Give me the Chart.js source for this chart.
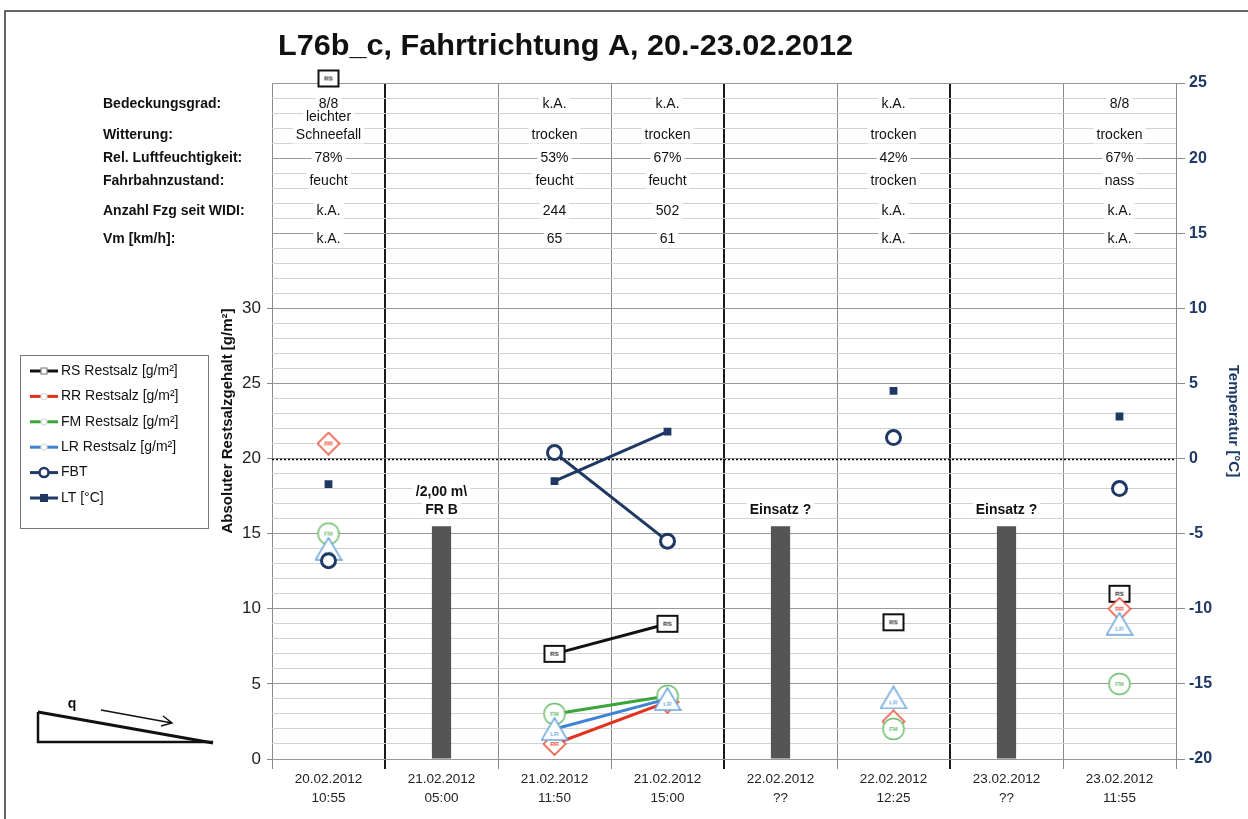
<!DOCTYPE html>
<html>
<head>
<meta charset="utf-8">
<script src="https://cdn.jsdelivr.net/npm/chart.js@4.4.0/dist/chart.umd.min.js"></script>
<style>
  html, body { margin: 0; padding: 0; background: #fff; }
</style>
</head>
<body>
<canvas id="chart" width="1248" height="819"></canvas>
<script>
// categories (date + time of each measurement)
const categories = [
    ['20.02.2012', '10:55'], ['21.02.2012', '05:00'], ['21.02.2012', '11:50'], ['21.02.2012', '15:00'],
    ['22.02.2012', '??'], ['22.02.2012', '12:25'], ['23.02.2012', '??'], ['23.02.2012', '11:55']
];

// left axis: residual salt [g/m²]
const einsatz   = [null, 15.5, null, null, 15.5, null, 15.5, null];
const rsValues  = [45.3, null, 7, 9, null, 9.1, null, 11];
const rrValues  = [21, null, 1, 3.8, null, 2.5, null, 10];
const fmValues  = [15, null, 3, 4.2, null, 2, null, 5];
const lrValues  = [14, null, 2, 4, null, 4.1, null, 9];
// right axis: temperatures [°C]
const fbtValues = [-6.8, null, 0.4, -5.5, null, 1.4, null, -2];
const ltValues  = [-1.7, null, -1.5, 1.8, null, 4.5, null, 2.8];

const einsatzNotes = [[], ['/2,00 m\\', 'FR B'], [], [], ['Einsatz ?'], [], ['Einsatz ?'], []];

// header table above the plot
const rowLabels   = ['Bedeckungsgrad:', 'Witterung:', 'Rel. Luftfeuchtigkeit:', 'Fahrbahnzustand:', 'Anzahl Fzg seit WIDI:', 'Vm [km/h]:'];
const bedeckung   = ['8/8', '', 'k.A.', 'k.A.', '', 'k.A.', '', '8/8'];
const witterung   = [['leichter', 'Schneefall'], [], ['trocken'], ['trocken'], [], ['trocken'], [], ['trocken']];
const luftfeuchte = ['78%', '', '53%', '67%', '', '42%', '', '67%'];
const fahrbahn    = ['feucht', '', 'feucht', 'feucht', '', 'trocken', '', 'nass'];
const anzahlFzg   = ['k.A.', '', '244', '502', '', 'k.A.', '', 'k.A.'];
const vmValues    = ['k.A.', '', '65', '61', '', 'k.A.', '', 'k.A.'];

const FONT = "'Liberation Sans', Arial, sans-serif";
const NAVY = '#1f3864';
const RED = '#e2311d';
const GREEN = '#3aa53a';
const BLUE = '#3f84d2';

// row levels of the header table, in left-axis units
const rowLevels = [43.6, 41.5, 40, 38.5, 36.5, 34.6];

function labelMarker(shape, color, text) {
    const c = document.createElement('canvas');
    c.width = shape === 'triangle' ? 28 : 24;
    c.height = shape === 'square' ? 20 : 24;
    const g = c.getContext('2d');
    g.fillStyle = '#fff';
    g.strokeStyle = color;
    g.lineWidth = shape === 'square' ? 2 : 1.5;
    g.beginPath();
    let ty = c.height / 2;
    if (shape === 'square') g.rect(2, 2, 20, 16);
    else if (shape === 'diamond') { g.moveTo(12, 1); g.lineTo(23, 12); g.lineTo(12, 23); g.lineTo(1, 12); g.closePath(); }
    else if (shape === 'circle') g.arc(12, 12, 10.5, 0, Math.PI * 2);
    else { g.moveTo(14, 1); g.lineTo(27, 23); g.lineTo(1, 23); g.closePath(); ty = 17; }
    g.fill();
    g.stroke();
    g.fillStyle = color;
    g.font = 'bold 6px ' + FONT;
    g.textAlign = 'center';
    g.textBaseline = 'middle';
    g.fillText(text, c.width / 2, ty);
    return c;
}

function dayBreak(i) {
    return i > 0 && i < categories.length && categories[i][0] !== categories[i - 1][0];
}

function textWithBg(ctx, txt, x, y) {
    const w = ctx.measureText(txt).width;
    ctx.fillStyle = '#fff';
    ctx.fillRect(x - w / 2 - 3, y - 8, w + 6, 16);
    ctx.fillStyle = '#111';
    ctx.fillText(txt, x, y);
}

const decorPlugin = {
    id: 'decor',
    beforeDatasetsDraw(chart) {
        const { ctx, chartArea, scales } = chart;
        const x = scales.x, y = scales.y, y2 = scales.y2;
        ctx.save();
        // dotted zero line of the temperature axis
        ctx.strokeStyle = '#000';
        ctx.lineWidth = 1.5;
        ctx.setLineDash([2, 2]);
        const zy = Math.round(y2.getPixelForValue(0)) + 0.5;
        ctx.beginPath();
        ctx.moveTo(chartArea.left, zy);
        ctx.lineTo(chartArea.right, zy);
        ctx.stroke();
        ctx.setLineDash([]);

        // header table cells
        ctx.font = '14px ' + FONT;
        ctx.textAlign = 'center';
        ctx.textBaseline = 'middle';
        const rows = [bedeckung, null, luftfeuchte, fahrbahn, anzahlFzg, vmValues];
        categories.forEach((c, i) => {
            const cx = x.getPixelForValue(i);
            rows.forEach((r, k) => {
                if (r && r[i]) textWithBg(ctx, r[i], cx, y.getPixelForValue(rowLevels[k]));
            });
            const w = witterung[i];
            w.forEach((t, k) => {
                const lvl = rowLevels[1] + (w.length - 1 - k) * 1.25;
                textWithBg(ctx, t, cx, y.getPixelForValue(lvl));
            });
            // notes above the Einsatz bars
            if (einsatzNotes[i].length) {
                ctx.font = 'bold 14px ' + FONT;
                const n = einsatzNotes[i].length;
                einsatzNotes[i].forEach((t, k) => {
                    textWithBg(ctx, t, cx, y.getPixelForValue(einsatz[i]) - 16 - (n - 1 - k) * 18);
                });
                ctx.font = '14px ' + FONT;
            }
        });
        ctx.restore();
    },
    afterDraw(chart) {
        const { ctx, chartArea, scales } = chart;
        ctx.save();

        // frame
        ctx.strokeStyle = '#333';
        ctx.lineWidth = 1.5;
        ctx.beginPath();
        ctx.moveTo(5, 830);
        ctx.lineTo(5, 11);
        ctx.lineTo(1260, 11);
        ctx.stroke();

        // title
        ctx.fillStyle = '#111';
        ctx.font = 'bold 30px ' + FONT;
        ctx.textAlign = 'left';
        ctx.textBaseline = 'alphabetic';
        const title = 'L76b_c, Fahrtrichtung A, 20.-23.02.2012';
        const tw = ctx.measureText(title).width;
        ctx.save();
        ctx.translate(278, 55);
        ctx.scale(575 / tw, 1);
        ctx.fillText(title, 0, 0);
        ctx.restore();

        // row labels of the header table
        ctx.font = 'bold 14px ' + FONT;
        ctx.textBaseline = 'middle';
        rowLabels.forEach((t, k) => ctx.fillText(t, 103, scales.y.getPixelForValue(rowLevels[k])));

        // axis titles
        const midY = (chartArea.top + chartArea.bottom) / 2;
        ctx.font = 'bold 15px ' + FONT;
        ctx.textAlign = 'center';
        ctx.save();
        ctx.translate(228, midY);
        ctx.rotate(-Math.PI / 2);
        ctx.fillText('Absoluter Restsalzgehalt [g/m²]', 0, 0);
        ctx.restore();
        ctx.save();
        ctx.fillStyle = NAVY;
        ctx.translate(1233, midY);
        ctx.rotate(Math.PI / 2);
        ctx.fillText('Temperatur [°C]', 0, 0);
        ctx.restore();

        // legend
        ctx.strokeStyle = '#777';
        ctx.lineWidth = 1;
        ctx.strokeRect(20.5, 355.5, 188, 173);
        ctx.textAlign = 'left';
        ctx.font = '14px ' + FONT;
        const legendSets = chart.data.datasets.filter(d => d.legendMark);
        legendSets.sort((a, b) => a.legendPos - b.legendPos);
        legendSets.forEach((d, k) => {
            const ly = 371 + k * 25.4;
            ctx.strokeStyle = d.borderColor;
            ctx.lineWidth = 3;
            ctx.beginPath();
            ctx.moveTo(30, ly);
            ctx.lineTo(58, ly);
            ctx.stroke();
            ctx.fillStyle = '#fff';
            ctx.lineWidth = 1.2;
            if (d.legendMark === 'smallSquare') {
                ctx.strokeStyle = '#888';
                ctx.fillRect(41, ly - 3, 6, 6);
                ctx.strokeRect(41, ly - 3, 6, 6);
            } else if (d.legendMark === 'smallCircle') {
                ctx.strokeStyle = '#ddd';
                ctx.beginPath();
                ctx.arc(44, ly, 3, 0, Math.PI * 2);
                ctx.fill();
                ctx.stroke();
            } else if (d.legendMark === 'ring') {
                ctx.strokeStyle = d.borderColor;
                ctx.lineWidth = 2.5;
                ctx.beginPath();
                ctx.arc(44, ly, 4.5, 0, Math.PI * 2);
                ctx.fill();
                ctx.stroke();
            } else {
                ctx.fillStyle = d.borderColor;
                ctx.fillRect(40, ly - 4, 8, 8);
            }
            ctx.fillStyle = '#111';
            ctx.fillText(d.label, 61, ly);
        });

        // slope sketch with direction of the cross fall
        ctx.strokeStyle = '#111';
        ctx.lineWidth = 2.5;
        ctx.beginPath();
        ctx.moveTo(38, 712);
        ctx.lineTo(38, 742);
        ctx.lineTo(213, 742);
        ctx.stroke();
        ctx.lineWidth = 3;
        ctx.beginPath();
        ctx.moveTo(38, 712);
        ctx.lineTo(213, 743);
        ctx.stroke();
        ctx.lineWidth = 1.5;
        ctx.beginPath();
        ctx.moveTo(101, 710);
        ctx.lineTo(172, 723);
        ctx.moveTo(163, 716);
        ctx.lineTo(172, 723);
        ctx.lineTo(161, 726);
        ctx.stroke();
        ctx.fillStyle = '#111';
        ctx.font = 'bold 14px ' + FONT;
        ctx.textAlign = 'center';
        ctx.fillText('q', 72, 704);

        ctx.restore();
    }
};

const lineBase = { type: 'line', spanGaps: false, borderWidth: 3, pointRadius: 10 };

new Chart(document.getElementById('chart'), {
    data: {
        labels: categories,
        datasets: [
            { type: 'bar', label: 'Einsatz', data: einsatz, yAxisID: 'y', backgroundColor: '#555',
              barPercentage: 0.17, categoryPercentage: 1, order: 10 },
            { ...lineBase, label: 'RS Restsalz [g/m²]', data: rsValues, yAxisID: 'y', borderColor: '#111',
              pointStyle: labelMarker('square', '#111', 'RS'), clip: false, order: 6, legendMark: 'smallSquare', legendPos: 1 },
            { ...lineBase, label: 'RR Restsalz [g/m²]', data: rrValues, yAxisID: 'y', borderColor: RED,
              pointStyle: labelMarker('diamond', '#e8472f', 'RR'), order: 5, legendMark: 'smallCircle', legendPos: 2 },
            { ...lineBase, label: 'FM Restsalz [g/m²]', data: fmValues, yAxisID: 'y', borderColor: GREEN,
              pointStyle: labelMarker('circle', '#6dbd6d', 'FM'), order: 4, legendMark: 'smallCircle', legendPos: 3 },
            { ...lineBase, label: 'LR Restsalz [g/m²]', data: lrValues, yAxisID: 'y', borderColor: BLUE,
              pointStyle: labelMarker('triangle', '#6aa6de', 'LR'), order: 3, legendMark: 'smallCircle', legendPos: 4 },
            { ...lineBase, label: 'FBT', data: fbtValues, yAxisID: 'y2', borderColor: NAVY, pointStyle: 'circle',
              pointRadius: 7, pointBorderWidth: 3, pointBackgroundColor: '#fff', order: 2, legendMark: 'ring', legendPos: 5 },
            { ...lineBase, label: 'LT [°C]', data: ltValues, yAxisID: 'y2', borderColor: NAVY, pointStyle: 'rect',
              pointRadius: 5.5, pointBorderWidth: 0, pointBackgroundColor: NAVY, order: 1, legendMark: 'square', legendPos: 6 }
        ]
    },
    options: {
        responsive: false,
        animation: false,
        events: [],
        layout: { padding: { top: 83, left: 0, right: 0, bottom: 0 } },
        plugins: { legend: { display: false }, tooltip: { enabled: false }, title: { display: false } },
        scales: {
            x: {
                type: 'category',
                offset: true,
                grid: {
                    offset: true,
                    color: c => dayBreak(c.index) ? '#1a1a1a' : '#8a8a8a',
                    lineWidth: c => dayBreak(c.index) ? 2 : 1,
                    tickLength: 10
                },
                border: { display: false },
                ticks: { color: '#222', font: { family: FONT, size: 13.5, lineHeight: 1.4 }, padding: 1, maxRotation: 0, autoSkip: false },
                afterFit: s => { s.height = 60; }
            },
            y: {
                position: 'left',
                min: 0,
                max: 45,
                ticks: {
                    stepSize: 1,
                    autoSkip: false,
                    callback: v => (v % 5 === 0 && v <= 30) ? v : '',
                    color: '#222',
                    font: { family: FONT, size: 17 },
                    padding: 6
                },
                grid: {
                    color: c => c.tick && c.tick.value % 5 === 0 ? '#999' : '#d2d2d2',
                    tickLength: 5,
                    tickColor: c => c.tick && c.tick.value % 5 === 0 && c.tick.value <= 30 ? '#888' : 'rgba(0,0,0,0)'
                },
                border: { display: false },
                afterFit: s => { s.width = 272; }
            },
            y2: {
                position: 'right',
                min: -20,
                max: 25,
                ticks: { stepSize: 5, color: NAVY, font: { family: FONT, size: 16, weight: 'bold' }, padding: 4 },
                grid: { drawOnChartArea: false, tickLength: 9, color: '#888' },
                border: { display: false },
                afterFit: s => { s.width = 72; }
            }
        }
    },
    plugins: [decorPlugin]
});
</script>
</body>
</html>
